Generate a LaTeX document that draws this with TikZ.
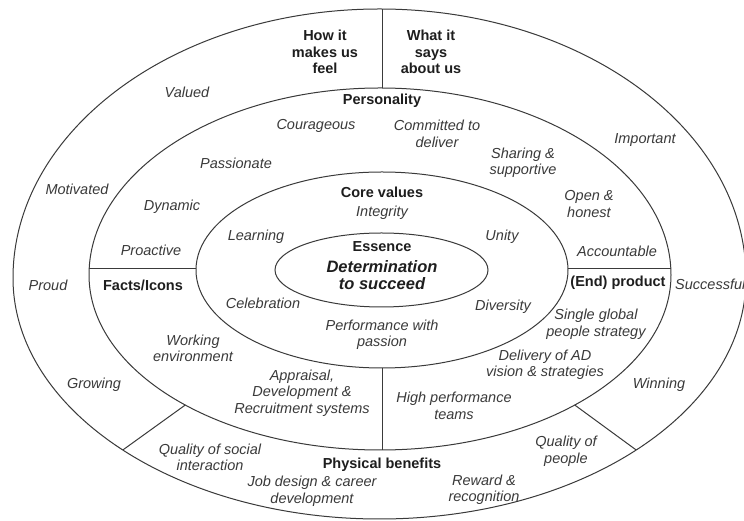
\documentclass[tikz,border=0pt]{standalone}
\usepackage{fontspec}
\setmainfont{Liberation Sans}
\definecolor{linegray}{HTML}{3A3A3A}
\definecolor{itemgray}{HTML}{3A3A3A}
\definecolor{headgray}{HTML}{1E1E1E}
\begin{document}
\begin{tikzpicture}[x=1pt,y=1pt,
  ring/.style={draw=linegray, line width=1pt},
  divider/.style={draw=linegray, line width=1pt},
  lbl/.style={font=\fontsize{14.5}{16.5}\selectfont\itshape, text=itemgray, align=center, inner sep=0pt},
  head/.style={font=\fontsize{14.5}{16.5}\selectfont\bfseries, text=headgray, align=center, inner sep=0pt}]

\useasboundingbox (0,0) rectangle (744,521);
\fill[white] (0,0) rectangle (744,521);

% outer ring (upper and lower halves of different height)
\draw[ring] (13,243) arc[start angle=180,end angle=0,x radius=366.5,y radius=269]
                     arc[start angle=0,end angle=-180,x radius=366.5,y radius=241] -- cycle;
% personality ring
\draw[ring] (89,246) arc[start angle=180,end angle=0,x radius=291,y radius=187]
                     arc[start angle=0,end angle=-180,x radius=291,y radius=175] -- cycle;
% core values ring
\draw[ring] (382,251) ellipse[x radius=186,y radius=98];
% essence
\draw[ring] (381.5,251) ellipse[x radius=106.5,y radius=37];

% end points of the dividing lines
\coordinate (topO) at (382,512);
\coordinate (topI) at (382,433);
\coordinate (leftO) at (89.2,252);
\coordinate (leftI) at (196,252);
\coordinate (rightI) at (568,252);
\coordinate (rightO) at (670.8,252);
\coordinate (botI) at (382,153);
\coordinate (botO) at (382,71);
\coordinate (dlI) at (185.3,116);
\coordinate (dlO) at (122.8,71);
\coordinate (drI) at (574.7,116);
\coordinate (drO) at (636.2,71);

\draw[divider] (topI) -- (topO);
\draw[divider] (leftO) -- (leftI);
\draw[divider] (rightI) -- (rightO);
\draw[divider] (botI) -- (botO);
\draw[divider] (dlI) -- (dlO);
\draw[divider] (drI) -- (drO);

% headings
\node[head] (feel) at (325,469) {How it\\makes us\\feel};
\node[head] (says) at (431,469) {What it\\says\\about us};
\node[head] (pers) at (382,420) {Personality};
\node[head] (core) at (382,329) {Core values};
\node[head] (ess) at (382,274) {Essence};
\node[head, font=\fontsize{16.5}{17}\selectfont\bfseries\itshape] (det) at (382,245.5) {Determination\\to succeed};
\node[head] (facts) at (143,236) {Facts/Icons};
\node[head] (prod) at (618,238) {(End) product};
\node[head] (phys) at (382,56) {Physical benefits};

% outer ring words
\node[lbl] (valued) at (187,429) {Valued};
\node[lbl] (important) at (645,381) {Important};
\node[lbl] (motivated) at (77,332) {Motivated};
\node[lbl] (proud) at (48,236) {Proud};
\node[lbl, anchor=west] (successful) at (675,237) {Successful};
\node[lbl] (growing) at (94,136) {Growing};
\node[lbl] (winning) at (659,136) {Winning};
\node[lbl] (qsocial) at (210,63.5) {Quality of social\\interaction};
\node[lbl] (qpeople) at (566,69.5) {Quality of\\people};
\node[lbl] (job) at (312,29.5) {Job design \& career\\development};
\node[lbl] (reward) at (484,31) {Reward \&\\recognition};

% personality ring words
\node[lbl] (courageous) at (316,395) {Courageous};
\node[lbl] (committed) at (437,387) {Committed to\\deliver};
\node[lbl] (passionate) at (236,358) {Passionate};
\node[lbl] (sharing) at (523,358) {Sharing \&\\supportive};
\node[lbl] (open) at (589,317) {Open \&\\honest};
\node[lbl] (dynamic) at (172,314) {Dynamic};
\node[lbl] (proactive) at (151,271) {Proactive};
\node[lbl] (accountable) at (617,270) {Accountable};
\node[lbl] (single) at (596,196.5) {Single global\\people strategy};
\node[lbl] (working) at (193,172.5) {Working\\environment};
\node[lbl] (delivery) at (545,156) {Delivery of AD\\vision \& strategies};
\node[lbl] (appraisal) at (302,128) {Appraisal,\\Development \&\\Recruitment systems};
\node[lbl] (highperf) at (454,115) {High performance\\teams};

% core values words
\node[lbl] (integrity) at (382,308) {Integrity};
\node[lbl] (unity) at (502,284) {Unity};
\node[lbl] (learning) at (256,284) {Learning};
\node[lbl] (celebration) at (263,218) {Celebration};
\node[lbl] (diversity) at (503,214) {Diversity};
\node[lbl] (performance) at (382,186) {Performance with\\passion};
\end{tikzpicture}
\end{document}
